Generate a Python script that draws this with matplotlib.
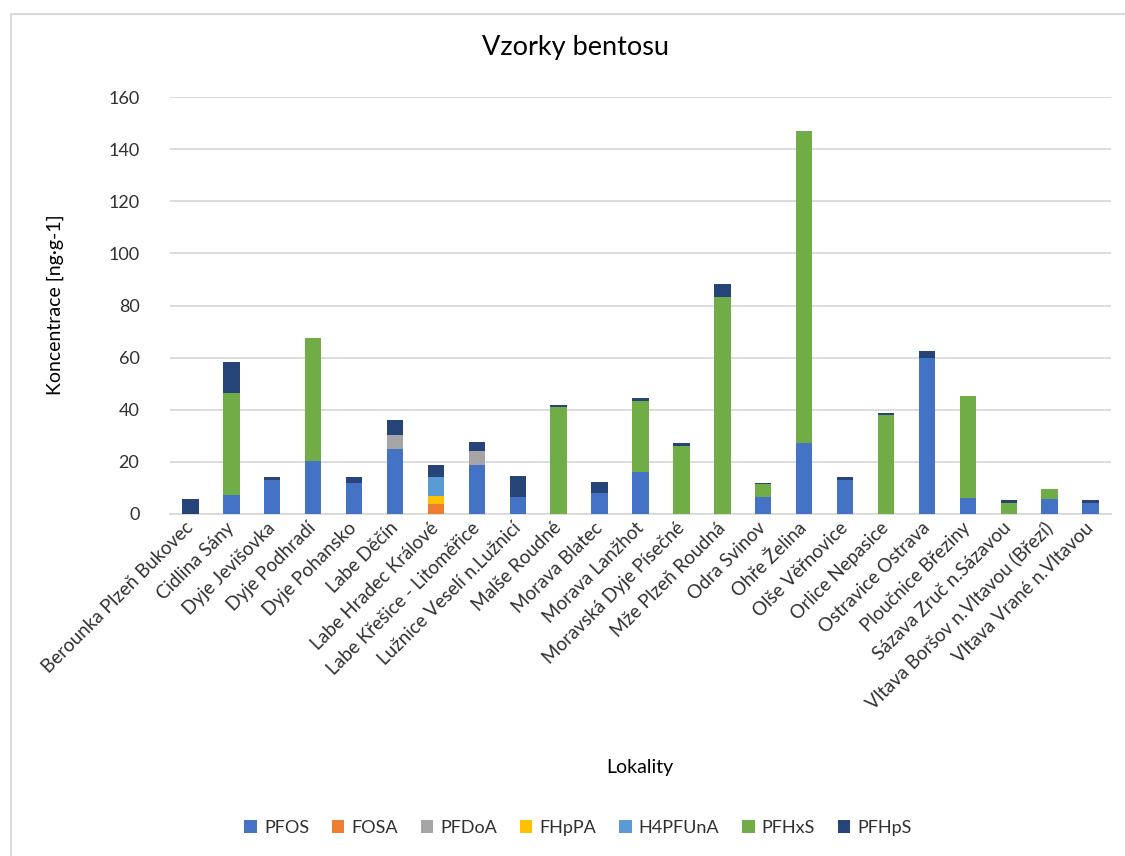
import matplotlib
matplotlib.use('Agg')
import matplotlib.pyplot as plt
from matplotlib.patches import Rectangle
import numpy as np

plt.rcParams['font.family'] = ['Lato', 'DejaVu Sans']

# lokality
localities = [
    'Berounka Plzeň Bukovec', 'Cidlina Sány', 'Dyje Jevišovka', 'Dyje Podhradí',
    'Dyje Pohansko', 'Labe Děčín', 'Labe Hradec Králové', 'Labe Křešice - Litoměřice',
    'Lužnice Veselí n.Lužnicí', 'Malše Roudné', 'Morava Blatec', 'Morava Lanžhot',
    'Moravská Dyje Písečné', 'Mže Plzeň Roudná', 'Odra Svinov', 'Ohře Želina',
    'Olše Věřnovice', 'Orlice Nepasice', 'Ostravice Ostrava', 'Ploučnice Březiny',
    'Sázava Zruč n.Sázavou', 'Vltava Boršov n.Vltavou (Březí)', 'Vltava Vrané n.Vltavou',
]

# koncentrace [ng/g] odhadnute z grafu
pfos    = [0, 7.3, 13.2, 20.2, 12.0, 25.1, 0, 18.9, 6.6, 0, 8.2, 16.1, 0, 0, 6.5, 27.2, 13.2, 0, 60.0, 6.1, 0, 5.6, 4.1]
fosa    = [0, 0, 0, 0, 0, 0, 3.8, 0, 0, 0, 0, 0, 0, 0, 0, 0, 0, 0, 0, 0, 0, 0, 0]
pfdoa   = [0, 0, 0, 0, 0, 5.2, 0, 5.4, 0, 0, 0, 0, 0, 0, 0, 0, 0, 0, 0, 0, 0, 0, 0]
fhppa   = [0, 0, 0, 0, 0, 0, 3.2, 0, 0, 0, 0, 0, 0, 0, 0, 0, 0, 0, 0, 0, 0, 0, 0]
h4pfuna = [0, 0, 0, 0, 0, 0, 7.3, 0, 0, 0, 0, 0, 0, 0, 0, 0, 0, 0, 0, 0, 0, 0, 0]
pfhxs   = [0, 39.2, 0, 47.5, 0, 0, 0, 0, 0, 41.2, 0, 27.1, 26.0, 83.2, 5.0, 119.8, 0, 37.9, 0, 39.1, 4.1, 4.1, 0]
pfhps   = [5.7, 11.9, 0.9, 0, 2.1, 5.9, 4.6, 3.2, 7.8, 0.8, 4.2, 1.3, 1.1, 4.9, 0.5, 0, 0.9, 0.7, 2.5, 0, 1.2, 0, 1.2]

series_names = ['PFOS', 'FOSA', 'PFDoA', 'FHpPA', 'H4PFUnA', 'PFHxS', 'PFHpS']
series = [pfos, fosa, pfdoa, fhppa, h4pfuna, pfhxs, pfhps]
colors = ['#4472C4', '#ED7D31', '#A5A5A5', '#FFC000', '#5B9BD5', '#70AD47', '#264478']

W, H = 1125, 856
fig = plt.figure(figsize=(W / 100, H / 100), dpi=100)

# ramecek grafu
fig.patches.append(Rectangle((11 / W, -0.1), 1.2, 1 - 14 / H + 0.1, transform=fig.transFigure,
                             fill=False, edgecolor='#D9D9D9', linewidth=1.5))

ax = fig.add_axes([170 / W, 1 - 514 / H, (1111 - 170) / W, (514 - 97) / H])

x = np.arange(len(localities))
bottom = np.zeros(len(localities))
for name, vals, c in zip(series_names, series, colors):
    vals = np.array(vals)
    ax.bar(x, vals, width=0.4, bottom=bottom, color=c, label=name, zorder=3)
    bottom += vals

ax.set_ylim(0, 160)
ax.set_xlim(-0.5, len(localities) - 0.5)
ax.set_yticks(range(0, 161, 20))
ax.yaxis.grid(True, color='#D9D9D9', linewidth=1.3, zorder=0)
for s in ['top', 'right', 'left']:
    ax.spines[s].set_visible(False)
ax.spines['bottom'].set_color('#D9D9D9')
ax.spines['bottom'].set_linewidth(1.3)
ax.tick_params(axis='both', length=0, labelsize=13, colors='#303030')
ax.tick_params(axis='y', pad=22)
ax.tick_params(axis='x', pad=8, labelsize=13.5)
ax.set_xticks(x)
ax.set_xticklabels(localities, rotation=45, ha='right', va='center', rotation_mode='anchor')

fig.text(575 / W, 1 - 48 / H, 'Vzorky bentosu', ha='center', va='center', fontsize=19.5, color='#000000')
fig.text(55 / W, 1 - 305 / H, 'Koncentrace [ng·g-1]', ha='center', va='center', rotation=90,
         fontsize=14, color='#000000')
fig.text(640 / W, 1 - 768 / H, 'Lokality', ha='center', va='center', fontsize=14, color='#000000')

fig.legend(loc='center', bbox_to_anchor=(578 / W, 1 - 828 / H), ncol=7, frameon=False,
           fontsize=13, handlelength=0.7, handleheight=0.7, handletextpad=0.4, columnspacing=1.25,
           labelcolor='#303030')

fig.savefig('out.png', dpi=100)
